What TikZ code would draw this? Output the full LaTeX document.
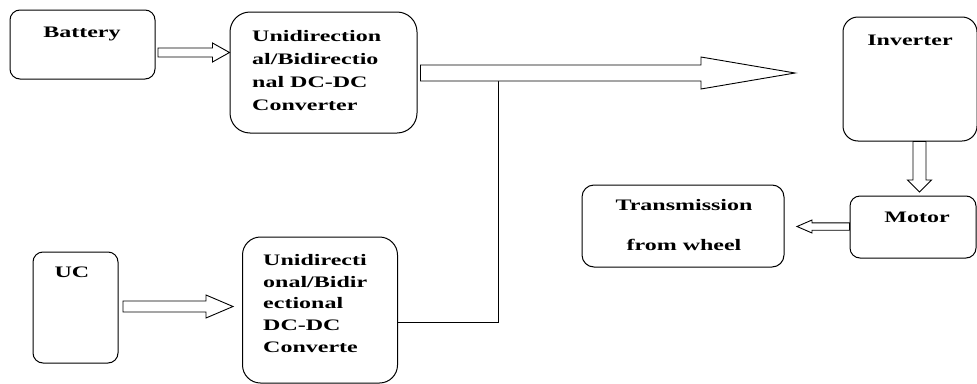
\documentclass[tikz,border=0pt]{standalone}
\usepackage{fontspec}
\setmainfont[FakeStretch=1.5]{Liberation Serif}
\usetikzlibrary{calc}
\tikzset{
  blk/.style={draw, line width=1pt, rounded corners=#1, inner sep=0pt},
  blk/.default=10pt,
  lbl/.style={inner sep=0pt, font=\fontsize{16}{23}\selectfont\bfseries, align=left},
  arrowline/.style={draw, line width=0.9pt, fill=white, line join=miter},
  wire/.style={draw, line width=0.9pt}
}
% horizontal block arrow: tail coord, tip coord (same y), shaft half, head half, head length
\newcommand{\blkR}[5]{%
  \draw[arrowline] let \p1=(#1), \p2=(#2) in
    (\x1,\y1+#3) -- (\x2-#5,\y1+#3) -- (\x2-#5,\y1+#4) -- (\x2,\y1)
    -- (\x2-#5,\y1-#4) -- (\x2-#5,\y1-#3) -- (\x1,\y1-#3) -- cycle;}
\newcommand{\blkL}[5]{%
  \draw[arrowline] let \p1=(#1), \p2=(#2) in
    (\x1,\y1+#3) -- (\x2+#5,\y1+#3) -- (\x2+#5,\y1+#4) -- (\x2,\y1)
    -- (\x2+#5,\y1-#4) -- (\x2+#5,\y1-#3) -- (\x1,\y1-#3) -- cycle;}
\newcommand{\blkD}[5]{%
  \draw[arrowline] let \p1=(#1), \p2=(#2) in
    (\x1+#3,\y1) -- (\x1+#3,\y2+#5) -- (\x1+#4,\y2+#5) -- (\x1,\y2)
    -- (\x1-#4,\y2+#5) -- (\x1-#3,\y2+#5) -- (\x1-#3,\y1) -- cycle;}
\begin{document}
\begin{tikzpicture}[x=1pt,y=-1pt]
\useasboundingbox (0,0) rectangle (977,383);

% boxes
\node[blk=10pt, minimum width=145pt, minimum height=69pt] (bat) at (82.5,44.5) {};
\node[blk=20pt, minimum width=187pt, minimum height=121pt] (c1) at (323.5,72.5) {};
\node[blk=15pt, minimum width=134pt, minimum height=124pt] (inv) at (910,79) {};
\node[blk=10pt, minimum width=126pt, minimum height=62pt] (mot) at (913,227) {};
\node[blk=12pt, minimum width=202pt, minimum height=82pt] (tr) at (683,226) {};
\node[blk=10pt, minimum width=85pt, minimum height=111pt] (uc) at (75.5,307.5) {};
\node[blk=18pt, minimum width=155pt, minimum height=146pt] (c2) at (320,310) {};

% labels
\node[lbl, anchor=base] (batT) at (82,37) {Battery};
\node[lbl, anchor=north west] (c1T) at (252,30.5) {Unidirection\\al/Bidirectio\\nal DC-DC\\Converter};
\node[lbl, anchor=base] (invT) at (910,45) {Inverter};
\node[lbl, anchor=base] (motT) at (917,222) {Motor};
\node[lbl, anchor=north, align=center] (trT) at (684,199) {Transmission\\[17pt]from wheel};
\node[lbl, anchor=base] (ucT) at (72,277) {UC};
\node[lbl, anchor=north west, font=\fontsize{16}{21.7}\selectfont\bfseries] (c2T) at (263,254) {Unidirecti\\onal/Bidir\\ectional\\DC-DC\\Converte};

% arrow end coordinates
\coordinate (batA) at (158,52.5);
\coordinate (batB) at (c1.west |- batA);
\coordinate (bigA) at ($(c1.east)+(3,0.5)$);
\coordinate (bigB) at (795,73);
\coordinate (ucA) at (123,306.5);
\coordinate (ucB) at (233,306.5);
\coordinate (invA) at (inv.south -| 919.5,0);
\coordinate (invB) at (919.5,192);
\coordinate (motA) at (mot.west |- 0,226.5);
\coordinate (motB) at (797,226.5);
\coordinate (jn) at (498.5,322);
\coordinate (jtop) at (498.5,81);

% wire from lower converter to the bus
\draw[wire] (c2.east |- jn) -- (jn) -- (jtop);

% block arrows
\blkR{batA}{batB}{4.5pt}{9.5pt}{17pt}
\blkR{bigA}{bigB}{8pt}{16pt}{94pt}
\blkR{ucA}{ucB}{5.5pt}{11.5pt}{27pt}
\blkD{invA}{invB}{6.5pt}{12pt}{12pt}
\blkL{motA}{motB}{3.7pt}{6.5pt}{15pt}
\end{tikzpicture}
\end{document}
